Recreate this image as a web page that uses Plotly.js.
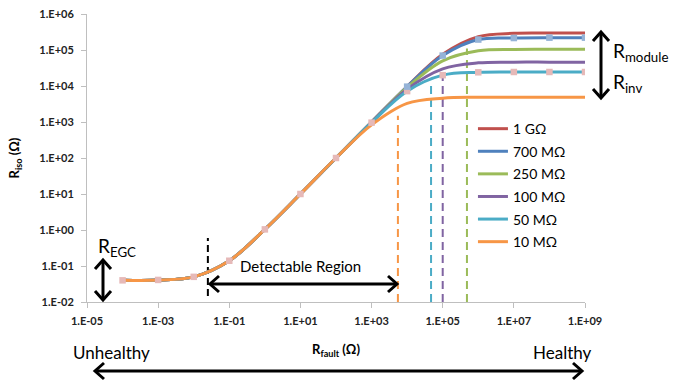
<!DOCTYPE html>
<html>
<head>
<meta charset="utf-8">
<script src="https://cdn.plot.ly/plotly-3.0.1.min.js"></script>
<style>html,body{margin:0;padding:0;background:#fff;}#chart{width:673px;height:381px;}</style>
</head>
<body>
<div id="chart"></div>
<script>
// ---- data ----
const rFault = [1e-4, 1e-3, 1e-2, 1e-1, 1, 10, 100, 1e3, 1e4, 1e5, 1e6, 1e7, 1e8, 1e9];
const r1G   = [0.04, 0.041, 0.05, 0.14, 1.04, 10, 100, 996, 9.7e3, 7.6e4, 2.35e5, 2.9e5, 2.95e5, 2.95e5];
const r700M = [0.04, 0.041, 0.05, 0.14, 1.04, 10, 100, 995, 9.6e3, 7.0e4, 1.95e5, 2.15e5, 2.2e5, 2.2e5];
const r250M = [0.04, 0.041, 0.05, 0.14, 1.04, 10, 100, 990, 9.1e3, 5.0e4, 9.5e4, 1.04e5, 1.05e5, 1.05e5];
const r100M = [0.04, 0.041, 0.05, 0.14, 1.04, 10, 100, 978, 8.2e3, 3.0e4, 4.4e4, 4.6e4, 4.6e4, 4.6e4];
const r50M  = [0.04, 0.041, 0.05, 0.14, 1.04, 10, 100, 960, 7.2e3, 2.0e4, 2.4e4, 2.45e4, 2.45e4, 2.45e4];
const r10M  = [0.04, 0.041, 0.05, 0.14, 1.04, 10, 100, 830, 3.3e3, 4.6e3, 4.85e3, 4.9e3, 4.9e3, 4.9e3];
const seriesNames = ['1 GΩ', '700 MΩ', '250 MΩ', '100 MΩ', '50 MΩ', '10 MΩ'];
const seriesColors = ['#c0504d', '#4f81bd', '#9bbb59', '#8064a2', '#4bacc6', '#f79646'];
const seriesValues = [r1G, r700M, r250M, r100M, r50M, r10M];

// detection thresholds (dashed verticals): x position and top value
const thresholdX   = [5.5e3, 4.7e4, 1.0e5, 4.8e5];
const thresholdTop = [1.5e3, 1.07e4, 2.3e4, 1.1e5];
const thresholdColors = ['#f79646', '#4bacc6', '#8064a2', '#9bbb59'];
const detectStartX = 0.025;
const detectSpan = [0.0147, 0.6];
const axisMinY = 0.01;

const xTickVals = [1e-5, 1e-3, 1e-1, 1e1, 1e3, 1e5, 1e7, 1e9];
const xTickText = ['1.E-05', '1.E-03', '1.E-01', '1.E+01', '1.E+03', '1.E+05', '1.E+07', '1.E+09'];
const yTickVals = [1e-2, 1e-1, 1, 1e1, 1e2, 1e3, 1e4, 1e5, 1e6];
const yTickText = ['1.E-02', '1.E-01', '1.E+00', '1.E+01', '1.E+02', '1.E+03', '1.E+04', '1.E+05', '1.E+06'];

// ---- build traces ----
const FONT = 'Lato, "Open Sans", sans-serif';
const traces = [];
thresholdX.forEach((xv, i) => {
  traces.push({x: [xv, xv], y: [axisMinY, thresholdTop[i]], mode: 'lines', showlegend: false, hoverinfo: 'skip',
    line: {color: thresholdColors[i], width: 2, dash: '8px,5px'}});
});
traces.push({x: [detectStartX, detectStartX], y: detectSpan, mode: 'lines', showlegend: false, hoverinfo: 'skip',
  line: {color: '#000', width: 2, dash: '7px,4px'}});
seriesValues.forEach((vals, i) => {
  traces.push({x: rFault, y: vals, name: seriesNames[i], mode: 'lines', legendgroup: 'g' + i,
    line: {color: seriesColors[i], width: 3, shape: 'spline', smoothing: 1}});
});
traces.push({x: rFault, y: r50M, mode: 'markers', showlegend: false,
  marker: {symbol: 'square', size: 6.5, color: '#e6b9b8'}});
traces.push({x: rFault.slice(8), y: r700M.slice(8), mode: 'markers', showlegend: false,
  marker: {symbol: 'square', size: 6.5, color: '#95b3d7'}});

// pixel -> paper helpers for annotations (plot area 87..585 x, 14..302 y)
const PL = 87, PR = 585, PT = 14, PB = 302;
const px = v => (v - PL) / (PR - PL);
const py = v => (PB - v) / (PB - PT);

// double-headed arrow drawn with shapes (shaft + two open chevrons)
function arrowShapes(x0, y0, x1, y1) {
  const len = Math.hypot(x1 - x0, y1 - y0);
  const ux = (x1 - x0) / len, uy = (y1 - y0) / len;   // direction
  const nx = -uy, ny = ux;                            // normal
  const back = 9, half = 8;
  const st = {color: '#000', width: 3};
  const head = (tx, ty, dx, dy) => {
    const ax = tx - dx * back + nx * half, ay = ty - dy * back + ny * half;
    const bx = tx - dx * back - nx * half, by = ty - dy * back - ny * half;
    return {type: 'path', xref: 'paper', yref: 'paper', line: st,
      path: `M${px(ax)},${py(ay)} L${px(tx)},${py(ty)} L${px(bx)},${py(by)}`};
  };
  return [
    {type: 'line', xref: 'paper', yref: 'paper', line: st,
      x0: px(x0 + ux * 1.5), y0: py(y0 + uy * 1.5), x1: px(x1 - ux * 1.5), y1: py(y1 - uy * 1.5)},
    head(x1, y1, ux, uy),
    head(x0, y0, -ux, -uy)
  ];
}
function label(text, x, y, size, xanchor) {
  return {xref: 'paper', yref: 'paper', x: px(x), y: py(y), text: text, showarrow: false,
    xanchor: xanchor || 'center', yanchor: 'middle', font: {family: FONT, size: size, color: '#000'}};
}

const annotations = [
  label('Unhealthy', 111, 352, 17),
  label('Healthy', 562, 352, 17),
  label('R<sub>EGC</sub>', 96, 247, 19, 'left'),
  label('Detectable Region', 300, 266, 15),
  label('R<sub>module</sub>', 611, 52, 19, 'left'),
  label('R<sub>inv</sub>', 611, 83, 19, 'left')
];
const shapes = [].concat(
  arrowShapes(95, 371, 582, 371),
  arrowShapes(103, 260, 103, 300),
  arrowShapes(210, 284, 397, 284),
  arrowShapes(601, 32, 601, 98)
);

const axisCommon = {
  type: 'log', showgrid: false, zeroline: false, showline: true, linecolor: '#bfbfbf', linewidth: 1,
  ticks: 'outside', ticklen: 5, tickcolor: '#bfbfbf', tickmode: 'array',
  tickfont: {family: FONT, size: 11, color: '#222', weight: 'bold'}
};

const layout = {
  width: 673, height: 381,
  margin: {l: PL, r: 673 - PR, t: PT, b: 381 - PB, pad: 0},
  paper_bgcolor: '#fff', plot_bgcolor: '#fff',
  showlegend: true,
  legend: {x: 0.775, y: 0.656, xanchor: 'left', yanchor: 'top', bgcolor: 'rgba(0,0,0,0)',
    font: {family: FONT, size: 14, color: '#000'}, tracegroupgap: 1.4, itemwidth: 30},
  xaxis: Object.assign({}, axisCommon, {range: [-5, 9], tickvals: xTickVals, ticktext: xTickText,
    ticklabelstandoff: 4,
    title: {text: '<b>R<sub>fault</sub> (Ω)</b>', font: {family: FONT, size: 13, color: '#000'}, standoff: 18}}),
  yaxis: Object.assign({}, axisCommon, {range: [-2, 6], tickvals: yTickVals, ticktext: yTickText,
    ticklabelstandoff: 5,
    title: {text: '<b>R<sub>iso</sub> (Ω)</b>', font: {family: FONT, size: 13, color: '#000'}, standoff: 16}}),
  annotations: annotations,
  shapes: shapes
};

Plotly.newPlot('chart', traces, layout, {staticPlot: true, displayModeBar: false});
</script>
</body>
</html>
